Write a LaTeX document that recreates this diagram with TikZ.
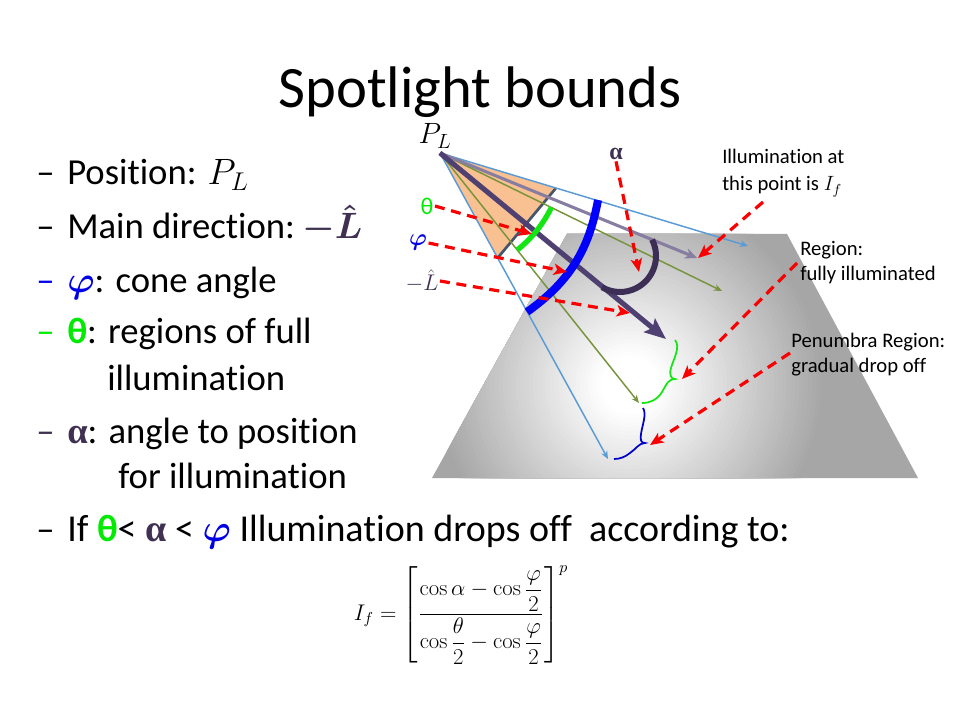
\RequirePackage{fix-cm}
\documentclass[tikz,border=0pt]{standalone}
\usepackage{amsmath}
\usepackage{bm}
\usepackage[no-math]{fontspec}
\setmainfont{Carlito}[Ligatures={NoCommon,NoContextual}]
\newfontfamily\serifgr{Liberation Serif}
\usetikzlibrary{arrows.meta}
\definecolor{plane}{RGB}{166,166,166}
\definecolor{conefill}{RGB}{249,192,146}
\definecolor{coneedge}{RGB}{68,84,106}
\definecolor{lblue}{RGB}{91,155,213}
\definecolor{olive}{RGB}{119,147,60}
\definecolor{grayp}{RGB}{135,125,160}
\definecolor{mainp}{RGB}{78,64,112}
\definecolor{alphac}{RGB}{60,46,85}
\definecolor{alphatext}{RGB}{64,49,82}
\definecolor{thgreen}{RGB}{0,235,0}
\definecolor{arcgreen}{RGB}{20,230,20}
\definecolor{phiblue}{RGB}{0,0,230}
\definecolor{braceblue}{RGB}{0,0,200}
\definecolor{reddash}{RGB}{250,0,0}
\tikzset{
  bullet/.style={anchor=base west, inner sep=0pt, font=\fontsize{27.5}{32}\selectfont},
  small/.style={anchor=base west, inner sep=0pt, font=\fontsize{15.5}{18}\selectfont},
  thinray/.style={line width=1.1pt, -{Stealth[length=6pt,width=5pt]}},
  redarrow/.style={draw=reddash, line width=2.4pt, dash pattern=on 7.5pt off 5pt, -{Stealth[length=10pt,width=8.5pt,inset=2.5pt]}},
  lab/.style={inner sep=1pt}
}
\begin{document}
\begin{tikzpicture}[x=0.75pt,y=0.75pt]
\useasboundingbox (0,0) rectangle (960,-720);
\fill[white] (0,0) rectangle (960,-720);

% title
\node[anchor=base, inner sep=0pt, font=\fontsize{44}{50}\selectfont] (title) at (480,-108) {Spotlight bounds};

% bullets
\node[bullet] (d1) at (36,-185) {–};
\node[bullet] (t1) at (67,-185) {Position: $P_L$};
\node[bullet] (d2) at (36,-239) {–};
\node[bullet] (t2) at (67,-239) {Main direction:\hspace{-3pt} {\color{alphatext}$\bm{-\hat{L}}$}};
\node[bullet, text=phiblue] (d3) at (36,-292) {–};
\node[bullet] (t3) at (67,-292) {{\color{phiblue}$\bm{\varphi}$}: cone angle};
\node[bullet, text=thgreen] (d4) at (36,-344) {–};
\node[bullet] (t4) at (67,-344) {{\color{thgreen}\bfseries θ}: regions of full};
\node[bullet] (t5) at (107,-390) {illumination};
\node[bullet, text=alphatext] (d6) at (36,-443) {–};
\node[bullet] (t6) at (67,-443) {{\color{alphatext}\serifgr\bfseries α}: angle to position};
\node[bullet] (t7) at (118,-488) {for illumination};
\node[bullet] (d8) at (36,-541) {–};
\node[bullet, font=\fontsize{28.5}{32}\selectfont] (t8) at (67,-541) {If {\color{thgreen}\bfseries θ}< {\color{alphatext}\serifgr\bfseries α} < {\color{phiblue}$\bm{\varphi}$} Illumination drops off\ \ according to:};

% formula
\node[inner sep=0pt, font=\fontsize{17}{21}\selectfont] (formula) at (461,-615)
  {$I_f=\left[\dfrac{\cos\alpha-\cos\dfrac{\varphi}{2}}{\cos\dfrac{\theta}{2}-\cos\dfrac{\varphi}{2}}\right]^{p}$};

% plane with soft light spot
\coordinate (q1) at (567,-234);
\coordinate (q2) at (787,-234);
\coordinate (q3) at (918,-478);
\coordinate (q4) at (432,-478);
\coordinate (spot) at (630,-385);
\fill[plane] (q1)--(q2)--(q3)--(q4)--cycle;
\begin{scope}
  \clip (q1)--(q2)--(q3)--(q4)--cycle;
  \foreach \i in {0,...,42} {
    \pgfmathsetmacro\rr{195-4.25*\i}
    \pgfmathsetmacro\ww{min(100,max(0,(195-\rr)/165*100))}
    \fill[white!\ww!plane] (spot) circle[radius=\rr];
  }
\end{scope}

% geometry
\coordinate (A) at (440,-153);
\coordinate (T1) at (556,-188);
\coordinate (T2) at (497.6,-258);
\coordinate (B1) at (748,-246);
\coordinate (B2) at (608,-459);
\coordinate (G1) at (722,-291);
\coordinate (G2) at (639,-403);
\coordinate (M) at (666,-339);
\coordinate (GP) at (697,-258);

\fill[conefill] (A)--(T1)--(T2)--cycle;
\draw[coneedge, line width=2pt] (T1)--(T2);

\draw[lblue, thinray] (A) -- (B1);
\draw[lblue, thinray] (A) -- (B2);
\draw[olive, thinray] (A) -- (G1);
\draw[olive, thinray] (A) -- (G2);
\draw[grayp, line width=2.3pt, -{Stealth[length=9pt,width=8pt]}] (A) -- (GP);
\draw[mainp, line width=3.8pt, -{Stealth[length=16pt,width=13pt,inset=3pt]}] (A) -- (M);

% arcs
\draw[arcgreen, line width=4pt] (A) ++(-26:124) arc[start angle=-26, end angle=-51.5, radius=124];
\coordinate (b1) at (598,-200);
\coordinate (b2) at (527,-312);
\draw[blue, line width=6pt] (b1) to[bend left=22] (b2);
\draw[alphac, line width=4.5pt] (620,-256) ++(27:36) arc[start angle=27, end angle=-120, radius=36];

% braces
\draw[arcgreen, line width=1.3pt] (675,-340) .. controls (681,-347) and (673,-360) .. (671,-368)
  .. controls (669,-375) and (671,-379) .. (675,-379)
  .. controls (669,-379) and (667,-383) .. (662,-392)
  .. controls (657,-400) and (650,-403) .. (642,-403);
\draw[braceblue, line width=1.3pt] (643,-408) .. controls (647,-414) and (642,-426) .. (641,-434)
  .. controls (640,-440) and (641,-443) .. (645,-443)
  .. controls (639,-443) and (636,-449) .. (630,-453)
  .. controls (625,-457) and (620,-459) .. (614,-459);

% diagram labels
\node[lab, font=\fontsize{22}{26}\selectfont] (pl) at (435,-136) {$P_L$};
\node[lab, text=thgreen, font=\fontsize{18}{22}\selectfont] (thl) at (427,-206) {θ};
\node[lab, text=phiblue, font=\fontsize{18}{22}\selectfont] (phl) at (418,-243) {$\bm{\varphi}$};
\node[lab, text=alphatext, font=\fontsize{17}{20}\selectfont] (ll) at (422,-281) {$-\hat{L}$};
\node[lab, text=alphatext, font=\fontsize{18}{22}\selectfont\serifgr\bfseries] (al) at (616,-154) {α};

\node[small] (s1) at (722,-164) {Illumination at};
\node[small] (s2) at (722,-191) {this point is $I_f$};
\node[small] (s3) at (800,-256) {Region:};
\node[small] (s4) at (800,-281) {fully illuminated};
\node[small] (s5) at (791,-347) {Penumbra Region:};
\node[small] (s6) at (791,-372) {gradual drop off};

% red dashed pointers
\coordinate (thT) at (532,-234);
\coordinate (phT) at (567,-272);
\coordinate (lT) at (630,-313);
\coordinate (alT) at (639,-272);
\coordinate (ifS) at (763,-202);
\coordinate (ifT) at (698,-258);
\coordinate (rgS) at (797,-263);
\coordinate (rgT) at (682,-379);
\coordinate (pnS) at (790,-353);
\coordinate (pnT) at (650,-445);
\draw[redarrow] (thl.east) -- (thT);
\draw[redarrow] (phl.east) -- (phT);
\draw[redarrow] (ll.east) -- (lT);
\draw[redarrow] (al.south) -- (alT);
\draw[redarrow] (ifS) -- (ifT);
\draw[redarrow] (rgS) -- (rgT);
\draw[redarrow] (pnS) -- (pnT);
\end{tikzpicture}
\end{document}
